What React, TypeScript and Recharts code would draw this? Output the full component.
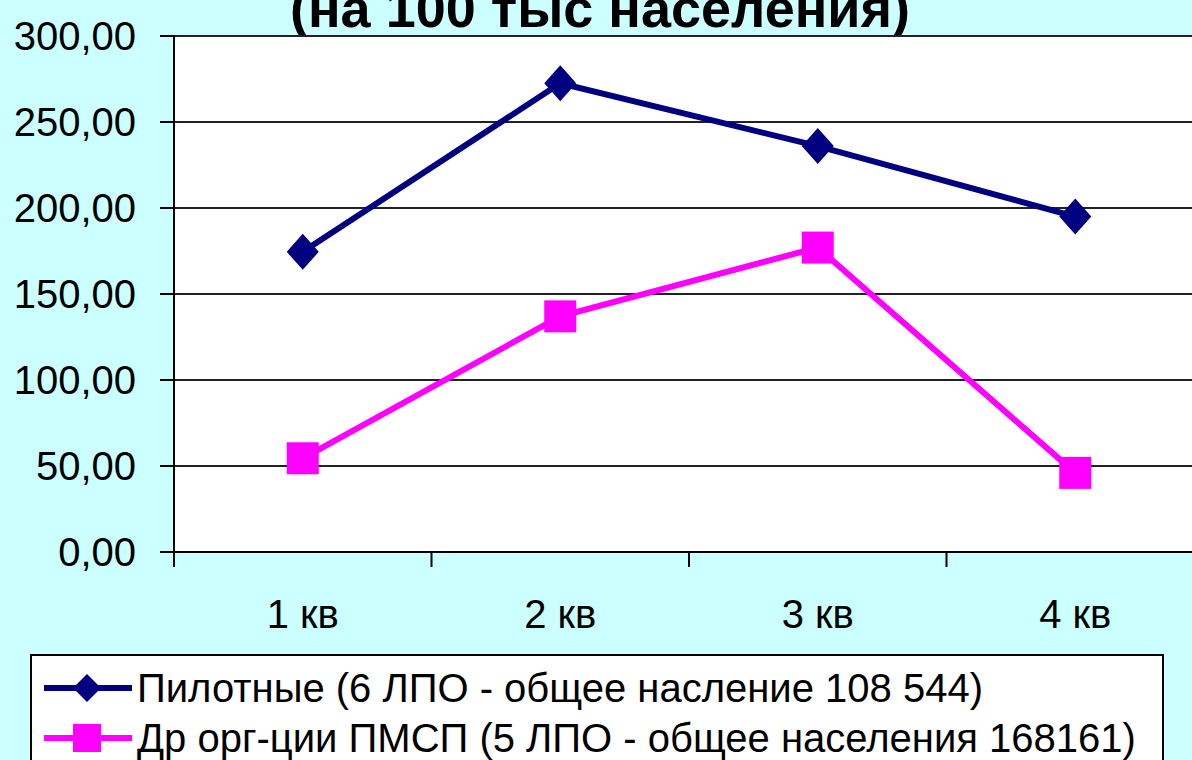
import { LineChart, Line, XAxis, YAxis, CartesianGrid, Legend } from "recharts";

const categories = ["1 кв", "2 кв", "3 кв", "4 кв"];
const pilotValues = [174.5, 272.5, 236, 195];
const otherValues = [54.5, 137, 177, 46];
const yTicks = [0, 50, 100, 150, 200, 250, 300];

const pilotName = "Пилотные (6 ЛПО - общее насление 108 544)";
const otherName = "Др орг-ции ПМСП (5 ЛПО - общее населения 168161)";

const data = categories.map((c, i) => ({
  name: c,
  pilot: pilotValues[i],
  other: otherValues[i],
}));

const FONT = "'Liberation Sans', Arial, sans-serif";
const NAVY = "#000080";
const PINK = "#ff00ff";
const HALF_BAND = 128.75;

const Diamond = (props: any) => {
  const { cx, cy } = props;
  if (cx == null || cy == null) return null;
  return (
    <polygon
      points={`${cx},${cy - 18} ${cx + 16},${cy} ${cx},${cy + 18} ${cx - 16},${cy}`}
      fill={NAVY}
    />
  );
};

const Square = (props: any) => {
  const { cx, cy } = props;
  if (cx == null || cy == null) return null;
  return <rect x={cx - 16} y={cy - 16} width={32} height={32} fill={PINK} />;
};

const XTick = (props: any) => {
  const { x, y, payload } = props;
  return (
    <g>
      <line x1={x - HALF_BAND} x2={x - HALF_BAND} y1={y} y2={y + 15} stroke="#000" strokeWidth={2} />
      <text x={x} y={y + 76} textAnchor="middle" fontSize={40} fontFamily={FONT} fill="#000">
        {payload.value}
      </text>
    </g>
  );
};

const LegendBox = () => (
  <div
    style={{
      width: 1134,
      height: 120,
      background: "#fff",
      border: "2px solid #000",
      boxSizing: "border-box",
      fontFamily: FONT,
      fontSize: 40,
      color: "#000",
    }}
  >
    {[
      { name: pilotName, color: NAVY, kind: "diamond" },
      { name: otherName, color: PINK, kind: "square" },
    ].map((item, i) => (
      <div key={i} style={{ display: "flex", alignItems: "center", height: 50, marginTop: i === 0 ? 7 : 0 }}>
        <svg width={105} height={40} style={{ flex: "none" }}>
          <line x1={12} x2={100} y1={20} y2={20} stroke={item.color} strokeWidth={6} />
          {item.kind === "diamond" ? (
            <polygon points="55,6 69,20 55,34 41,20" fill={item.color} />
          ) : (
            <rect x={41} y={6} width={28} height={28} fill={item.color} />
          )}
        </svg>
        <span style={{ whiteSpace: "nowrap" }}>{item.name}</span>
      </div>
    ))}
  </div>
);

export default function App() {
  return (
    <div
      style={{
        position: "fixed",
        left: 0,
        top: 0,
        width: 1192,
        height: 760,
        overflow: "hidden",
        background: "#ccffff",
      }}
    >
      <div
        style={{
          position: "absolute",
          left: 0,
          top: -19,
          width: 1200,
          textAlign: "center",
          fontFamily: FONT,
          fontWeight: "bold",
          fontSize: 54,
          lineHeight: "54px",
          whiteSpace: "nowrap",
        }}
      >
        (на 100 тыс населения)
      </div>
      <div style={{ position: "absolute", left: 0, top: 0 }}>
        <LineChart
          width={1230}
          height={760}
          data={data}
          margin={{ top: 36, right: 26, left: 0, bottom: 108 }}
        >
          <CartesianGrid vertical={false} stroke="#222" strokeWidth={2} fill="#fff" />
          <XAxis
            dataKey="name"
            padding={{ left: HALF_BAND, right: HALF_BAND }}
            height={100}
            tickSize={0}
            tickMargin={0}
            axisLine={{ stroke: "#000", strokeWidth: 2 }}
            tick={<XTick />}
            interval={0}
          />
          <YAxis
            width={174}
            domain={[0, 300]}
            ticks={yTicks}
            tickSize={14}
            tickMargin={24}
            axisLine={{ stroke: "#000", strokeWidth: 2 }}
            tickLine={{ stroke: "#000", strokeWidth: 2 }}
            tick={{ fontSize: 40, fontFamily: FONT, fill: "#000" }}
            tickFormatter={(v: number) => v.toFixed(2).replace(".", ",")}
          />
          <Legend
            layout="vertical"
            align="center"
            verticalAlign="middle"
            wrapperStyle={{ position: "absolute", left: 30, top: 654, width: 1134 }}
            content={() => <LegendBox />}
          />
          <Line
            dataKey="pilot"
            name={pilotName}
            stroke={NAVY}
            strokeWidth={6}
            dot={<Diamond />}
            activeDot={false}
            isAnimationActive={false}
          />
          <Line
            dataKey="other"
            name={otherName}
            stroke={PINK}
            strokeWidth={6}
            dot={<Square />}
            activeDot={false}
            isAnimationActive={false}
          />
        </LineChart>
      </div>
    </div>
  );
}
